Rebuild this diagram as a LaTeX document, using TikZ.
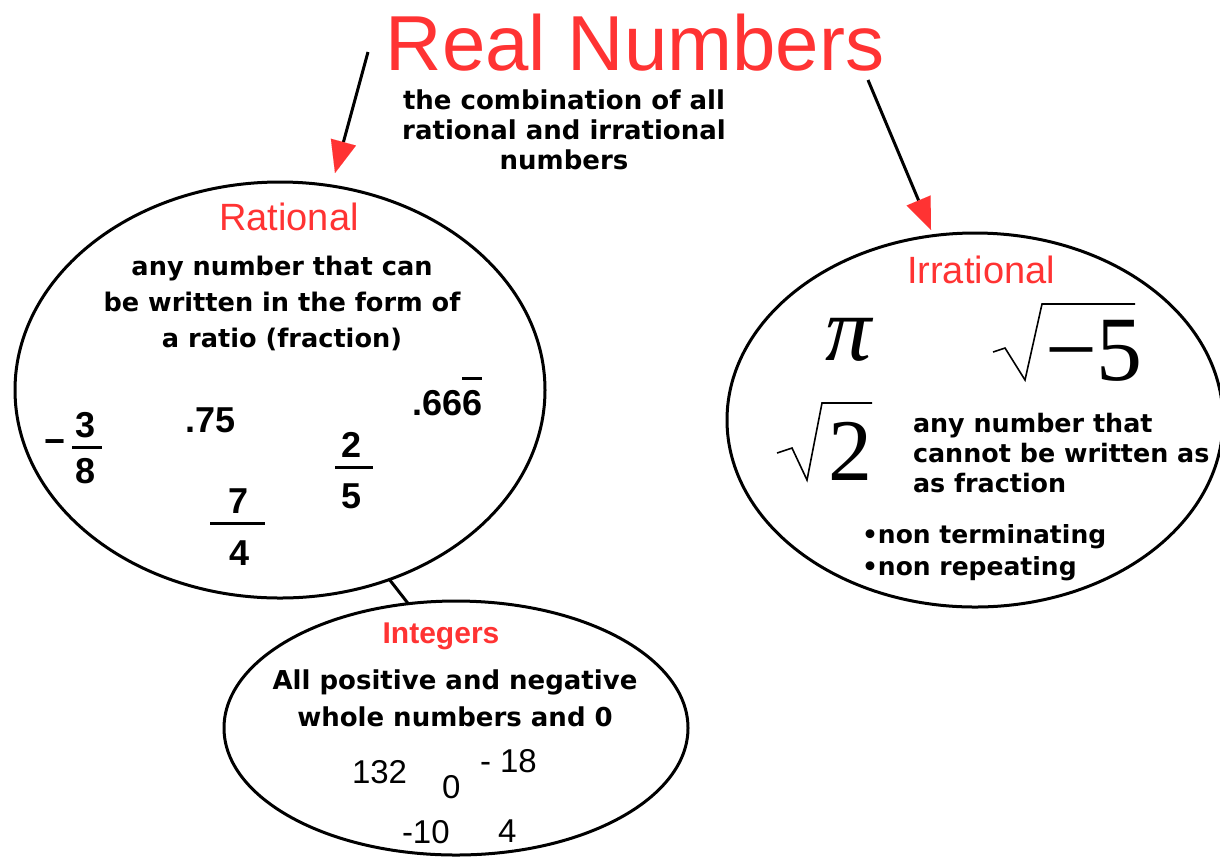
\documentclass[tikz,border=0pt]{standalone}
\usepackage{fontspec}
\setmainfont{Liberation Sans}
\newfontfamily\dejavu{DejaVu Sans}
\newfontfamily\tnr{Liberation Serif}
\usetikzlibrary{shapes.geometric,arrows.meta}
\definecolor{rnred}{RGB}{255,51,51}
\newcommand\myover[1]{\setbox0\hbox{#1}\rlap{\rule[\dimexpr\ht0+5pt\relax]{\wd0}{1.3pt}}\box0}
\begin{document}
\begin{tikzpicture}[x=0.5pt,y=-0.5pt,
  every node/.style={inner sep=0pt,outer sep=0pt},
  setbox/.style={draw,line width=1.5pt,ellipse,inner sep=0pt},
  redlab/.style={text=rnred,font=\fontsize{#1}{#1}\selectfont},
  bodytext/.style 2 args={font=\dejavu\bfseries\fontsize{#1}{#2}\selectfont},
  numb/.style={font=\bfseries\fontsize{18}{20}\selectfont},
  intnum/.style={font=\fontsize{16.5}{18}\selectfont,anchor=base west},
  fracbar/.style={line width=1.5pt},
  radline/.style={line width=0.8pt,line join=miter},
  conn/.style={line width=1.5pt},
  arr/.style={line width=1.5pt,-{Triangle[length=16pt,width=13pt,color=rnred,line width=0.01pt]}}]
\useasboundingbox (0,0) rectangle (1220,858);

% title and subtitle
\node[anchor=base,text=rnred,font=\fontsize{39}{40}\selectfont] (title) at (635,70) {Real Numbers};
\node[anchor=north,align=center,bodytext={13}{15}] (sub) at (564,90) {the combination of all\\rational and irrational\\numbers};

% ellipses
\node[setbox,minimum width=265pt,minimum height=208pt] (rat) at (280,390) {};
\node[setbox,minimum width=248pt,minimum height=187pt] (irr) at (975,420) {};
\node[setbox,minimum width=232pt,minimum height=127pt] (int) at (456,728) {};

% arrows
\coordinate (a1s) at (368,52);
\coordinate (a1e) at (335,173);
\coordinate (a2s) at (868,80);
\coordinate (a2e) at (931,230);
\draw[arr] (a1s) -- (a1e);
\draw[arr] (a2s) -- (a2e);

% connector rational - integers
\draw[conn] (rat.-60.2) -- (int.111);

% rational content
\node[anchor=base,redlab=19] (ratlab) at (289,230) {Rational};
\node[anchor=north,align=center,bodytext={12.8}{18}] (ratdef) at (282,256) {any number that can\\be written in the form of\\a ratio (fraction)};
\node[numb] (m38) at (55,447) {−};
\node[numb,anchor=base] (n3) at (86,437) {3};
\node[numb,anchor=base] (d8) at (86,483) {8};
\draw[fracbar] (72,447) -- (102,447);
\node[numb,anchor=base west] (p75) at (185,432) {.75};
\node[numb,anchor=base] (n7) at (239,513) {7};
\node[numb,anchor=base] (d4) at (240,565) {4};
\draw[fracbar] (210,523) -- (265,523);
\node[numb,anchor=base] (n2) at (352,457) {2};
\node[numb,anchor=base] (d5) at (352,508) {5};
\draw[fracbar] (335,467) -- (373,467);
\node[numb,anchor=base west] (p666) at (412,415) {.66\myover{6}};

% irrational content
\node[anchor=base,redlab=19] (irrlab) at (981,283) {Irrational};
\node[anchor=base,font=\tnr\itshape\fontsize{46}{46}\selectfont] (pi) at (849,360) {π};
\node[anchor=base,font=\tnr\fontsize{44}{44}\selectfont] (two) at (850,480) {2};
\draw[radline] (777,453) -- (792,448) -- (807,480) -- (822,403) -- (872,403);
\node[anchor=base west,font=\tnr\fontsize{46}{46}\selectfont] (m5) at (1045,380) {−5};
\draw[radline] (993,352) -- (1005,348) -- (1025,380) -- (1042,304) -- (1135,304);
\node[anchor=north west,align=left,bodytext={12.7}{15}] (irrdef) at (913,413) {any number that\\cannot be written as\\as fraction};
\node[anchor=north west,align=left,bodytext={12.5}{16}] (irrbul) at (862,524) {•non terminating\\•non repeating};

% integers content
\node[anchor=base,text=rnred,font=\bfseries\fontsize{15}{15}\selectfont] (intlab) at (441,643) {Integers};
\node[anchor=north,align=center,bodytext={13}{18.5}] (intdef) at (455,670) {All positive and negative\\whole numbers and 0};
\node[intnum] (i132) at (352,783) {132};
\node[intnum] (i0) at (442,798) {0};
\node[intnum] (i18) at (480,772) {- 18};
\node[intnum] (i10) at (402,843) {-10};
\node[intnum] (i4) at (498,842) {4};
\end{tikzpicture}
\end{document}
